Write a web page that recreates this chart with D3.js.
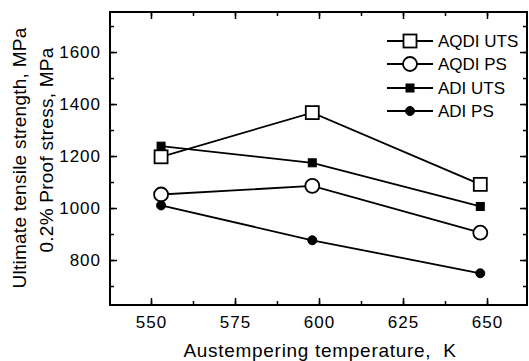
<!DOCTYPE html>
<html><head><meta charset="utf-8">
<script src="https://cdn.jsdelivr.net/npm/d3@7"></script>
<style>body{margin:0;background:#fff}svg{display:block;font-family:Arial,"Liberation Sans",sans-serif}</style>
</head><body><svg id="c" width="529" height="361"></svg>
<script>
const temps = [553, 598, 648];
const aqdiUTS = [1197, 1367, 1091];
const aqdiPS = [1052, 1085, 905];
const adiUTS = [1238, 1174, 1006];
const adiPS = [1010, 876, 749];
const seriesNames = ["AQDI UTS", "AQDI PS", "ADI UTS", "ADI PS"];
const xTicks = [550, 575, 600, 625, 650];
const yTicks = [800, 1000, 1200, 1400, 1600];

const FONT = "Arial,'Liberation Sans',sans-serif";
const svg = d3.select("#c");
const L = 110, R = 527, T = 12, B = 305;
const x = d3.scaleLinear().domain([537.8, 661.9]).range([L, R]);
const y = d3.scaleLinear().domain([627, 1754]).range([B, T]);

const series = [
  {name: seriesNames[0], vals: aqdiUTS, shape: "square", fill: "#fff", size: 13},
  {name: seriesNames[1], vals: aqdiPS, shape: "circle", fill: "#fff", size: 7},
  {name: seriesNames[2], vals: adiUTS, shape: "square", fill: "#000", size: 8},
  {name: seriesNames[3], vals: adiPS, shape: "circle", fill: "#000", size: 4.5}
];

function marker(g, s, cx, cy) {
  if (s.shape === "square") {
    g.append("rect").attr("x", cx - s.size/2).attr("y", cy - s.size/2)
      .attr("width", s.size).attr("height", s.size)
      .attr("fill", s.fill).attr("stroke", "#000").attr("stroke-width", s.fill === "#fff" ? 1.8 : 1);
  } else {
    g.append("circle").attr("cx", cx).attr("cy", cy).attr("r", s.size)
      .attr("fill", s.fill).attr("stroke", "#000").attr("stroke-width", s.fill === "#fff" ? 1.8 : 1);
  }
}

// axes (ticks inward, all four sides)
const xMinor = d3.range(537.5, 662, 12.5).filter(v => v > 537.8);
const yMinor = d3.range(700, 1750, 100);
const ax = svg.append("g");
function tickLines(axisGen, tf) {
  const g = ax.append("g").attr("transform", tf).call(axisGen);
  g.select(".domain").remove();
  g.selectAll("line").attr("stroke", "#000").attr("stroke-width", 1.5);
  return g;
}
tickLines(d3.axisBottom(x).tickValues(xMinor).tickSize(-4).tickFormat(""), `translate(0,${B})`);
tickLines(d3.axisTop(x).tickValues(xMinor).tickSize(-4).tickFormat(""), `translate(0,${T})`);
tickLines(d3.axisLeft(y).tickValues(yMinor).tickSize(-4).tickFormat(""), `translate(${L},0)`);
tickLines(d3.axisRight(y).tickValues(yMinor).tickSize(-4).tickFormat(""), `translate(${R},0)`);

const gxb = tickLines(d3.axisBottom(x).tickValues(xTicks).tickSize(-7).tickPadding(11).tickFormat(d3.format("d")), `translate(0,${B})`);
gxb.selectAll("text").attr("font-size", 17).attr("letter-spacing", 1).attr("fill", "#000").attr("font-family", FONT);
tickLines(d3.axisTop(x).tickValues(xTicks).tickSize(-7).tickFormat(""), `translate(0,${T})`);
const gyl = tickLines(d3.axisLeft(y).tickValues(yTicks).tickSize(-7).tickPadding(9).tickFormat(d3.format("d")), `translate(${L},0)`);
gyl.selectAll("text").attr("font-size", 17).attr("letter-spacing", 1).attr("fill", "#000").attr("font-family", FONT);
tickLines(d3.axisRight(y).tickValues(yTicks).tickSize(-7).tickFormat(""), `translate(${R},0)`);

svg.append("rect").attr("x", L).attr("y", T).attr("width", R - L).attr("height", B - T)
  .attr("fill", "none").attr("stroke", "#000").attr("stroke-width", 2);

// lines and markers
const line = d3.line().x((d, i) => x(temps[i])).y(d => y(d));
series.forEach(s => {
  svg.append("path").attr("d", line(s.vals)).attr("fill", "none").attr("stroke", "#000").attr("stroke-width", 1.8);
});
series.forEach(s => {
  const g = svg.append("g");
  s.vals.forEach((v, i) => marker(g, s, x(temps[i]), y(v)));
});

// legend
const legY = [41, 64, 88, 111];
series.forEach((s, i) => {
  const g = svg.append("g");
  g.append("line").attr("x1", 387).attr("x2", 433).attr("y1", legY[i]).attr("y2", legY[i])
    .attr("stroke", "#000").attr("stroke-width", 1.8);
  marker(g, s, 410, legY[i]);
  g.append("text").attr("x", 438).attr("y", legY[i] + 6).attr("font-size", 17).text(s.name);
});

// titles
svg.append("text").attr("x", 320).attr("y", 357).attr("text-anchor", "middle").attr("font-size", 19)
  .attr("letter-spacing", 0.7).style("white-space", "pre").text("Austempering temperature,  K");
svg.append("text").attr("transform", "translate(26,158) rotate(-90)").attr("text-anchor", "middle")
  .attr("font-size", 19).attr("letter-spacing", 0.25).text("Ultimate tensile strength, MPa");
svg.append("text").attr("transform", "translate(53,150) rotate(-90)").attr("text-anchor", "middle")
  .attr("font-size", 19).attr("letter-spacing", 0.25).text("0.2% Proof stress, MPa");
</script></body></html>
